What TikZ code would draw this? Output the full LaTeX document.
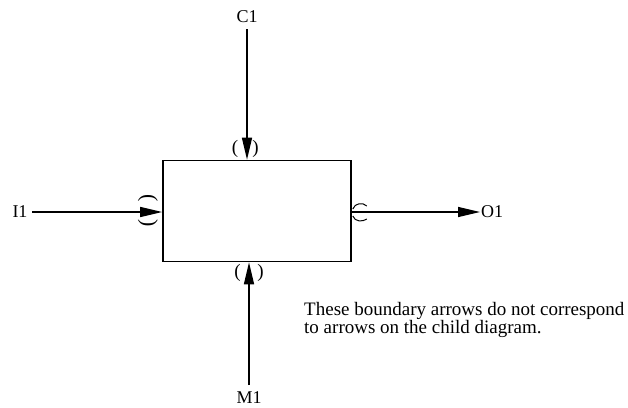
\documentclass[tikz,border=0pt]{standalone}
\usepackage{fontspec}
\setmainfont{Liberation Serif}
\usetikzlibrary{calc, positioning, arrows.meta}
\tikzset{
    activity/.style={rectangle, draw=black, line width=1.6pt, minimum width=188pt, minimum height=101pt, inner sep=0pt},
    arrowlabel/.style={font=\fontsize{18}{18}\selectfont, inner sep=0pt, outer sep=0pt},
    arrow/.style={-{Triangle[length=22pt, width=10pt]}, line width=1.4pt},
    tunnel/.style={font=\fontsize{19}{19}\selectfont, inner sep=0pt},
    note/.style={font=\fontsize{19}{15}\selectfont, align=left, inner sep=0pt}
}
\begin{document}
\begin{tikzpicture}[x=1pt, y=-1pt]
        \useasboundingbox (0,0) rectangle (628,407);
        \node[activity] (A0) at (257,211) {};

        \node[arrowlabel] (C1) at (247,17) {C1};
        \node[arrowlabel] (M1) at (249,398) {M1};
        \node[arrowlabel] (I1) at (20,212) {I1};
        \node[arrowlabel] (O1) at (492,212) {O1};

        \draw[arrow, shorten <=6pt] (C1) -- (C1 |- A0.north);
        \draw[arrow, shorten <=7pt] (M1) -- (M1 |- A0.south);
        \draw[arrow, shorten <=5pt] (I1) -- (I1 -| A0.west);
        \draw[arrow, shorten >=1pt] (A0.east |- O1) -- (O1.west);

        % tunnelled arrows
        \node[tunnel] (Ct1) at (235,149) {(};
        \node[tunnel] (Ct2) at (255.5,149) {)};
        \node[tunnel] (Mt1) at (237.5,273) {(};
        \node[tunnel] (Mt2) at (260.5,273) {)};
        \node[tunnel, rotate=-90, font=\fontsize{22}{22}\selectfont] (It1) at (148,198) {(};
        \node[tunnel, rotate=-90, font=\fontsize{22}{22}\selectfont] (It2) at (148,223) {)};
        \coordinate (Ot) at (A0.east |- O1);
        \draw[line width=1pt] ($(Ot)+(1,-3)$) .. controls ($(Ot)+(3,-9)$) and ($(Ot)+(11,-10)$) .. ($(Ot)+(15,-6)$);
        \draw[line width=1pt] ($(Ot)+(1,4)$) .. controls ($(Ot)+(3,10)$) and ($(Ot)+(11,10)$) .. ($(Ot)+(15,7)$);

        \node[note, anchor=north west] (Note) at (304,302) {These boundary arrows do not correspond\\to arrows on the child diagram.};
    \end{tikzpicture}
\end{document}
